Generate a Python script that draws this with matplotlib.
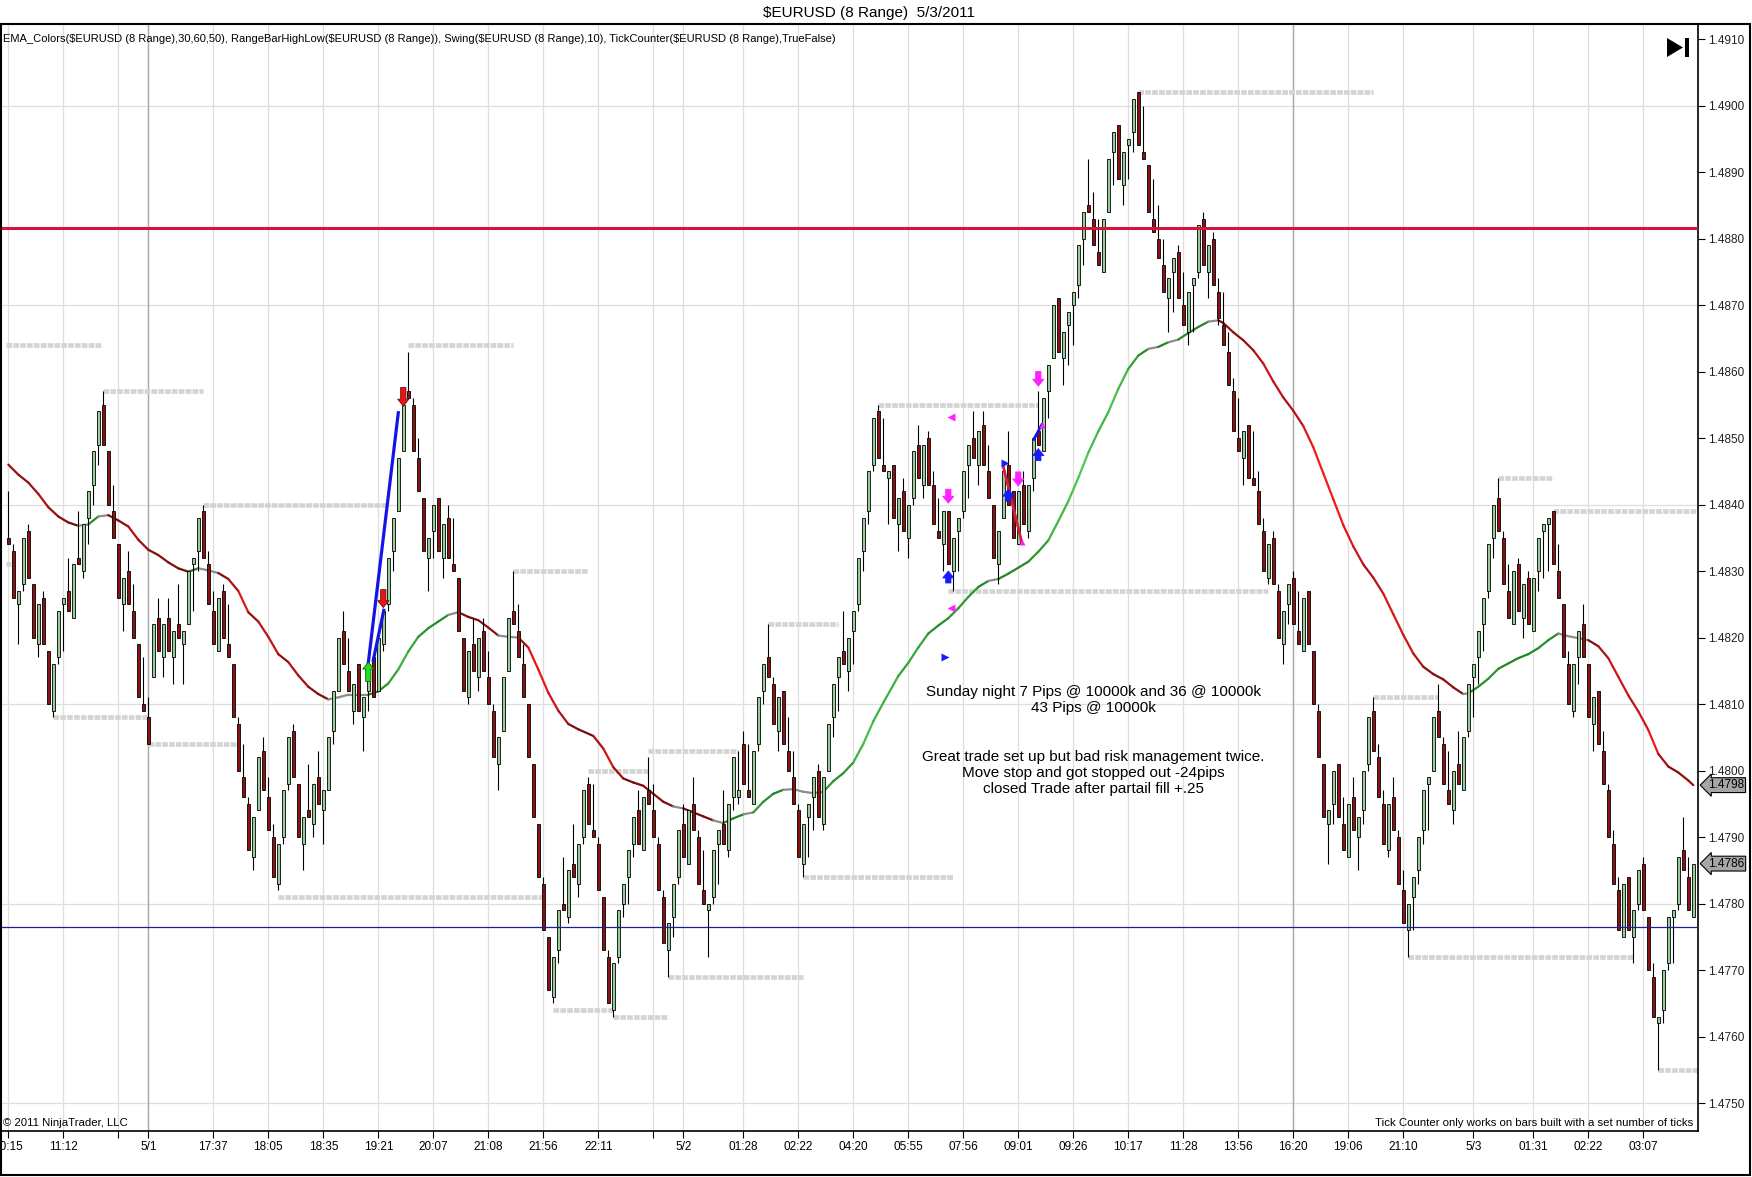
import numpy as np
import matplotlib
matplotlib.use("Agg")
import matplotlib.pyplot as plt
from matplotlib.collections import LineCollection
from matplotlib.patches import Rectangle, Polygon
from matplotlib.transforms import blended_transform_factory

plt.rcParams["font.family"] = ["Liberation Sans", "DejaVu Sans"]
NARROW = ["Liberation Sans Narrow", "Liberation Sans", "DejaVu Sans"]

W, H = 1752, 1177

# ---- range bars, prices in pips (4834 -> 1.4834) ----
opens = [
    4835, 4833, 4825, 4828, 4836, 4828, 4819, 4826, 4818, 4809,
    4817, 4825, 4827, 4823, 4832, 4830, 4838, 4843, 4849, 4855,
    4848, 4839, 4834, 4825, 4830, 4824, 4819, 4810, 4808, 4814,
    4823, 4817, 4823, 4817, 4822, 4819, 4822, 4831, 4833, 4839,
    4831, 4824, 4818, 4827, 4819, 4816, 4807, 4799, 4795, 4787,
    4794, 4803, 4796, 4790, 4783, 4790, 4798, 4806, 4798, 4789,
    4794, 4792, 4799, 4794, 4797, 4806, 4812, 4821, 4815, 4809,
    4816, 4808, 4812, 4817, 4812, 4819, 4825, 4833, 4839, 4848,
    4857, 4855, 4847, 4841, 4832, 4836, 4841, 4832, 4838, 4831,
    4829, 4820, 4811, 4819, 4814, 4821, 4814, 4809, 4801, 4806,
    4815, 4824, 4821, 4816, 4810, 4801, 4792, 4783, 4775, 4766,
    4773, 4780, 4778, 4786, 4783, 4790, 4798, 4791, 4789, 4781,
    4772, 4764, 4772, 4780, 4784, 4789, 4794, 4788, 4797, 4794,
    4789, 4781, 4773, 4778, 4784, 4792, 4786, 4795, 4790, 4782,
    4779, 4781, 4789, 4792, 4788, 4796, 4796, 4804, 4797, 4795,
    4804, 4812, 4817, 4813, 4806, 4812, 4803, 4799, 4794, 4786,
    4793, 4796, 4800, 4792, 4800, 4808, 4814, 4818, 4815, 4821,
    4825, 4833, 4839, 4846, 4854, 4846, 4844, 4846, 4837, 4842,
    4835, 4841, 4849, 4843, 4850, 4843, 4836, 4834, 4839, 4830,
    4836, 4839, 4846, 4850, 4846, 4852, 4845, 4840, 4831, 4838,
    4846, 4842, 4834, 4843, 4836, 4844, 4851, 4848, 4857, 4862,
    4871, 4862, 4867, 4870, 4873, 4880, 4885, 4883, 4878, 4875,
    4884, 4893, 4897, 4888, 4894, 4896, 4902, 4893, 4891, 4883,
    4880, 4876, 4871, 4875, 4878, 4870, 4866, 4873, 4875, 4883,
    4875, 4880, 4872, 4867, 4863, 4857, 4850, 4847, 4852, 4844,
    4842, 4836, 4829, 4835, 4827, 4819, 4825, 4829, 4821, 4818,
    4827, 4818, 4809, 4801, 4792, 4795, 4801, 4792, 4787, 4796,
    4790, 4794, 4801, 4809, 4802, 4795, 4788, 4796, 4790, 4782,
    4776, 4781, 4785, 4791, 4798, 4800, 4809, 4804, 4797, 4794,
    4801, 4797, 4806, 4814, 4817, 4822, 4827, 4835, 4841, 4835,
    4827, 4822, 4831, 4823, 4829, 4821, 4830, 4836, 4837, 4839,
    4830, 4825, 4816, 4809, 4817, 4822, 4816, 4807, 4812, 4803,
    4797, 4789, 4782, 4775, 4784, 4775, 4780, 4786, 4778, 4769,
    4762, 4764, 4771, 4778, 4780, 4788, 4784, 4778,
]
highs = [
    4842, 4834, 4827, 4835, 4837, 4828, 4825, 4827, 4818, 4816,
    4824, 4826, 4832, 4831, 4839, 4837, 4842, 4848, 4854, 4857,
    4848, 4843, 4834, 4829, 4833, 4828, 4819, 4817, 4811, 4822,
    4826, 4822, 4826, 4821, 4828, 4821, 4830, 4832, 4838, 4840,
    4833, 4827, 4826, 4828, 4825, 4816, 4808, 4804, 4796, 4793,
    4802, 4805, 4799, 4792, 4789, 4797, 4805, 4807, 4798, 4793,
    4801, 4798, 4803, 4797, 4805, 4812, 4820, 4824, 4820, 4813,
    4816, 4811, 4816, 4817, 4820, 4824, 4832, 4838, 4847, 4855,
    4863, 4856, 4850, 4841, 4835, 4840, 4841, 4837, 4840, 4838,
    4829, 4820, 4818, 4823, 4820, 4823, 4818, 4810, 4805, 4814,
    4823, 4830, 4825, 4819, 4810, 4801, 4792, 4784, 4775, 4772,
    4779, 4787, 4785, 4792, 4789, 4797, 4799, 4798, 4790, 4781,
    4773, 4771, 4779, 4783, 4788, 4793, 4797, 4796, 4802, 4798,
    4790, 4782, 4777, 4783, 4791, 4795, 4794, 4799, 4791, 4788,
    4780, 4788, 4791, 4797, 4795, 4802, 4803, 4806, 4804, 4803,
    4811, 4816, 4822, 4814, 4811, 4812, 4808, 4803, 4795, 4792,
    4795, 4799, 4801, 4799, 4807, 4813, 4817, 4824, 4820, 4824,
    4832, 4838, 4845, 4853, 4855, 4853, 4845, 4846, 4841, 4844,
    4840, 4848, 4852, 4849, 4851, 4845, 4841, 4839, 4839, 4835,
    4838, 4845, 4849, 4854, 4851, 4854, 4849, 4840, 4836, 4845,
    4851, 4842, 4842, 4845, 4843, 4850, 4857, 4856, 4861, 4870,
    4871, 4866, 4869, 4872, 4879, 4884, 4892, 4887, 4883, 4883,
    4892, 4896, 4897, 4893, 4895, 4901, 4902, 4900, 4891, 4889,
    4885, 4880, 4874, 4877, 4879, 4875, 4872, 4874, 4882, 4884,
    4879, 4881, 4874, 4872, 4866, 4859, 4856, 4851, 4852, 4851,
    4845, 4838, 4834, 4836, 4828, 4824, 4828, 4830, 4827, 4826,
    4827, 4818, 4810, 4801, 4794, 4800, 4801, 4796, 4795, 4799,
    4793, 4800, 4808, 4811, 4804, 4797, 4795, 4799, 4791, 4785,
    4780, 4784, 4790, 4797, 4799, 4808, 4813, 4805, 4803, 4800,
    4806, 4805, 4813, 4816, 4821, 4826, 4834, 4840, 4844, 4836,
    4831, 4830, 4832, 4828, 4830, 4829, 4835, 4837, 4838, 4839,
    4834, 4825, 4818, 4816, 4821, 4825, 4816, 4811, 4812, 4806,
    4798, 4791, 4784, 4783, 4784, 4779, 4785, 4787, 4778, 4771,
    4763, 4770, 4778, 4779, 4787, 4793, 4787, 4786,
]
lows = [
    4834, 4826, 4819, 4827, 4829, 4820, 4817, 4819, 4810, 4808,
    4816, 4818, 4824, 4823, 4831, 4829, 4834, 4840, 4846, 4849,
    4840, 4835, 4826, 4821, 4825, 4820, 4811, 4809, 4804, 4814,
    4818, 4814, 4818, 4813, 4820, 4813, 4822, 4824, 4830, 4832,
    4825, 4819, 4818, 4820, 4817, 4808, 4800, 4796, 4788, 4785,
    4794, 4797, 4791, 4784, 4782, 4789, 4797, 4799, 4790, 4785,
    4793, 4790, 4795, 4789, 4797, 4804, 4812, 4816, 4812, 4807,
    4809, 4803, 4809, 4811, 4812, 4818, 4824, 4830, 4839, 4848,
    4856, 4848, 4842, 4833, 4827, 4832, 4833, 4829, 4832, 4830,
    4821, 4812, 4810, 4815, 4812, 4815, 4810, 4802, 4797, 4806,
    4815, 4822, 4817, 4811, 4802, 4793, 4784, 4776, 4767, 4765,
    4771, 4779, 4777, 4784, 4781, 4789, 4792, 4790, 4782, 4773,
    4765, 4763, 4771, 4778, 4780, 4787, 4789, 4788, 4795, 4790,
    4782, 4774, 4769, 4775, 4783, 4787, 4786, 4791, 4783, 4780,
    4772, 4780, 4783, 4789, 4787, 4794, 4795, 4798, 4796, 4795,
    4803, 4810, 4814, 4807, 4803, 4804, 4800, 4795, 4787, 4784,
    4787, 4791, 4793, 4791, 4800, 4805, 4809, 4816, 4812, 4816,
    4824, 4830, 4837, 4845, 4847, 4845, 4837, 4838, 4833, 4836,
    4832, 4840, 4844, 4841, 4843, 4837, 4835, 4830, 4831, 4827,
    4830, 4838, 4841, 4847, 4843, 4846, 4841, 4832, 4828, 4838,
    4840, 4835, 4834, 4837, 4835, 4842, 4849, 4848, 4853, 4862,
    4863, 4858, 4861, 4864, 4871, 4876, 4884, 4879, 4876, 4875,
    4884, 4888, 4889, 4885, 4889, 4893, 4894, 4892, 4884, 4881,
    4877, 4872, 4866, 4869, 4871, 4867, 4864, 4866, 4874, 4876,
    4871, 4873, 4867, 4864, 4858, 4851, 4848, 4843, 4844, 4843,
    4837, 4830, 4828, 4828, 4820, 4816, 4822, 4822, 4819, 4818,
    4819, 4810, 4802, 4793, 4786, 4792, 4793, 4788, 4787, 4791,
    4785, 4792, 4800, 4803, 4796, 4789, 4787, 4791, 4783, 4777,
    4772, 4776, 4783, 4789, 4791, 4800, 4805, 4798, 4795, 4792,
    4798, 4797, 4805, 4808, 4813, 4818, 4826, 4832, 4836, 4828,
    4823, 4822, 4824, 4820, 4822, 4821, 4827, 4829, 4830, 4831,
    4826, 4817, 4810, 4808, 4813, 4817, 4808, 4803, 4804, 4798,
    4790, 4783, 4776, 4775, 4776, 4771, 4779, 4779, 4770, 4763,
    4755, 4762, 4770, 4771, 4779, 4785, 4779, 4778,
]
closes = [
    4834, 4826, 4827, 4835, 4829, 4820, 4825, 4819, 4810, 4816,
    4824, 4826, 4824, 4831, 4831, 4837, 4842, 4848, 4854, 4849,
    4840, 4835, 4826, 4829, 4825, 4820, 4811, 4809, 4804, 4822,
    4818, 4822, 4818, 4821, 4820, 4821, 4830, 4832, 4838, 4832,
    4825, 4819, 4826, 4820, 4817, 4808, 4800, 4796, 4788, 4793,
    4802, 4797, 4791, 4784, 4789, 4797, 4805, 4799, 4790, 4793,
    4793, 4798, 4795, 4797, 4805, 4812, 4820, 4816, 4812, 4813,
    4809, 4811, 4816, 4811, 4820, 4824, 4832, 4838, 4847, 4855,
    4856, 4848, 4842, 4833, 4835, 4840, 4833, 4837, 4832, 4830,
    4821, 4812, 4818, 4815, 4820, 4815, 4810, 4802, 4805, 4814,
    4823, 4822, 4817, 4811, 4802, 4793, 4784, 4776, 4767, 4772,
    4779, 4779, 4785, 4784, 4789, 4797, 4792, 4790, 4782, 4773,
    4765, 4771, 4779, 4783, 4788, 4793, 4789, 4796, 4795, 4790,
    4782, 4774, 4777, 4783, 4791, 4787, 4794, 4791, 4783, 4780,
    4780, 4788, 4791, 4789, 4795, 4802, 4797, 4798, 4796, 4803,
    4811, 4816, 4814, 4807, 4811, 4804, 4800, 4795, 4787, 4792,
    4795, 4799, 4793, 4799, 4807, 4813, 4817, 4816, 4820, 4824,
    4832, 4838, 4845, 4853, 4847, 4845, 4845, 4838, 4841, 4836,
    4840, 4848, 4844, 4849, 4843, 4837, 4835, 4839, 4831, 4835,
    4838, 4845, 4849, 4847, 4851, 4846, 4841, 4832, 4836, 4845,
    4840, 4835, 4842, 4837, 4843, 4850, 4849, 4856, 4861, 4870,
    4863, 4866, 4869, 4872, 4879, 4884, 4884, 4879, 4876, 4883,
    4892, 4896, 4889, 4893, 4895, 4901, 4894, 4892, 4884, 4881,
    4877, 4872, 4874, 4877, 4871, 4867, 4872, 4874, 4882, 4876,
    4879, 4873, 4868, 4864, 4858, 4851, 4848, 4851, 4844, 4843,
    4837, 4830, 4834, 4828, 4820, 4824, 4828, 4822, 4819, 4826,
    4819, 4810, 4802, 4793, 4794, 4800, 4793, 4788, 4795, 4791,
    4793, 4800, 4808, 4803, 4796, 4789, 4795, 4791, 4783, 4777,
    4780, 4784, 4790, 4797, 4799, 4808, 4805, 4798, 4795, 4800,
    4798, 4805, 4813, 4816, 4821, 4826, 4834, 4840, 4836, 4828,
    4823, 4830, 4824, 4828, 4822, 4829, 4835, 4837, 4838, 4831,
    4826, 4817, 4810, 4816, 4821, 4817, 4808, 4811, 4804, 4798,
    4790, 4783, 4776, 4783, 4776, 4779, 4785, 4779, 4770, 4763,
    4763, 4770, 4778, 4779, 4787, 4785, 4779, 4786,
]

# EMA line (bar index, pips)
ema_x = [0, 2, 4, 6, 8, 10, 12, 14, 16, 18, 20, 22, 24, 26, 28, 30, 32, 34, 36, 38,
         40, 42, 44, 46, 48, 50, 52, 54, 56, 58, 60, 62, 64, 66, 68, 70, 72, 74, 76, 78,
         80, 82, 84, 86, 88, 90, 92, 94, 96, 98, 100, 102, 104, 106, 108, 110, 112, 114,
         117, 119, 121, 123, 125, 127, 129, 131, 133, 135, 137, 139, 141, 143, 145, 147,
         149, 151, 153, 155, 157, 159, 161, 163, 165, 167, 169, 171, 173, 175, 178, 180,
         182, 184, 186, 188, 190, 192, 194, 196, 198, 200, 202, 204, 206, 208, 210, 212,
         214, 216, 218, 220, 222, 224, 226, 228, 230, 232, 234, 236, 238, 240, 242, 243,
         245, 247, 249, 251, 253, 255, 257, 259, 261, 263, 265, 267, 269, 271, 273, 275,
         277, 279, 281, 283, 285, 287, 289, 291, 292, 294, 296, 298, 300, 302, 304, 306,
         308, 310, 312, 314, 316, 318, 320, 322, 324, 326, 328, 330, 332, 334, 336, 337]
ema_vals = [4846.0, 4844.5, 4843.3, 4841.6, 4839.6, 4838.2, 4837.3, 4836.8, 4837.0, 4838.2,
            4838.4, 4837.6, 4836.7, 4834.7, 4833.2, 4832.4, 4831.3, 4830.4, 4829.9, 4830.4,
            4830.1, 4829.7, 4828.8, 4827.0, 4823.8, 4822.4, 4820.1, 4817.5, 4816.3, 4814.3,
            4812.6, 4811.5, 4810.7, 4811.0, 4811.4, 4811.4, 4811.4, 4811.9, 4813.1, 4815.2,
            4817.9, 4820.1, 4821.4, 4822.4, 4823.4, 4823.8, 4823.1, 4822.6, 4821.5, 4820.3,
            4820.1, 4820.0, 4818.5, 4815.2, 4811.7, 4809.0, 4807.0, 4806.2,
            4805.2, 4803.3, 4800.5, 4798.8, 4798.2, 4797.7, 4796.5, 4795.3, 4794.6, 4794.3,
            4793.7, 4793.1, 4792.5, 4792.1, 4792.8, 4793.4,
            4793.7, 4795.3, 4796.5, 4797.1, 4797.2, 4796.8, 4796.6, 4796.8, 4798.4, 4799.6,
            4801.2, 4804.0, 4807.4, 4810.2, 4814.2, 4816.2,
            4818.5, 4820.6, 4821.8, 4822.9, 4824.4, 4826.1, 4827.6, 4828.5, 4828.8, 4829.6,
            4830.5, 4831.4, 4832.9, 4834.6, 4837.5, 4840.5,
            4844.0, 4847.8, 4851.0, 4853.9, 4857.4, 4860.4, 4862.4, 4863.4, 4863.7, 4864.4,
            4864.8, 4865.8, 4866.7, 4867.5, 4867.7, 4867.3,
            4865.9, 4864.7, 4863.2, 4861.2, 4858.5, 4856.1, 4854.1, 4851.8, 4848.6, 4844.7,
            4840.8, 4836.9, 4833.7, 4831.0, 4829.0, 4826.6,
            4823.5, 4820.4, 4817.6, 4815.6, 4814.5, 4813.7, 4812.5, 4811.5, 4811.6, 4812.6,
            4813.8, 4815.3, 4816.1, 4816.9, 4817.5, 4818.4,
            4819.6, 4820.6, 4820.2, 4819.9, 4819.6, 4818.7, 4816.9, 4814.1, 4811.3, 4808.9,
            4806.1, 4802.5, 4800.6, 4799.7, 4798.5, 4797.8]

# swing / range high-low levels: start bar, end bar, level (pips)
swing_start = [-0.5, -0.5, 19, 9, 28, 39, 54, 80, 101, 116, 109, 121, 128, 132,
               152, 159, 174, 188, 226, 273, 280, 298, 309, 330]
swing_end = [0.5, 18.7, 39, 28, 46, 76, 107, 101, 116, 128, 121, 132, 146, 159,
             166, 189, 206, 252, 273, 286, 325, 309, 337.7, 337.7]
swing_level = [4831, 4864, 4857, 4808, 4804, 4840, 4781, 4864, 4830, 4800, 4764, 4763, 4803, 4769,
               4822, 4784, 4855, 4827, 4902, 4811, 4772, 4844, 4839, 4755]

red_level = 4881.6
blue_level = 4776.5

# drawn objects: (bar0, pips0, bar1, pips1)
blue_lines = [(72, 4816.2, 78, 4853.8), (73, 4816.6, 75.1, 4824.1)]
red_lines = [(199, 4845.7, 202.7, 4834.3)]
small_blue_lines = [(205.1, 4849.8, 206.7, 4852.0)]

# executions: bar, tip, tail (pips)
green_up = [(72, 4816.3, 4813.4)]
blue_up = [(188, 4830.0, 4828.2), (200, 4842.3, 4840.5), (206, 4848.4, 4846.6)]
red_down = [(75, 4824.5, 4827.2), (79, 4854.8, 4857.6)]
magenta_down = [(188, 4840.2, 4842.3), (202, 4842.8, 4844.9), (206, 4857.8, 4860.0)]
magenta_left = [(188.5, 4853.2), (188.5, 4824.4)]
blue_right = [(187.3, 4817.0), (199.3, 4846.3)]
magenta_dots = [(202.7, 4834.3), (206.7, 4852.0)]

tick_bars = [0, 11, 22, 28, 41, 52, 63, 74, 85, 96, 107, 118, 129, 135, 147, 158, 169,
             180, 191, 202, 213, 224, 235, 246, 257, 268, 279, 293, 305, 316, 327]
tick_labels = ["10:15", "11:12", "", "5/1", "17:37", "18:05", "18:35", "19:21", "20:07",
               "21:08", "21:56", "22:11", "", "5/2", "01:28", "02:22", "04:20", "05:55",
               "07:56", "09:01", "09:26", "10:17", "11:28", "13:56", "16:20", "19:06",
               "21:10", "5/3", "01:31", "02:22", "03:07"]
session_breaks = [28, 257]
y_ticks = [1.4750, 1.4760, 1.4770, 1.4780, 1.4790, 1.4800, 1.4810, 1.4820, 1.4830,
           1.4840, 1.4850, 1.4860, 1.4870, 1.4880, 1.4890, 1.4900, 1.4910]
y_grid = [1.4750, 1.4780, 1.4810, 1.4840, 1.4870, 1.4900]

title = "$EURUSD (8 Range)  5/3/2011"
ind_text = ("EMA_Colors($EURUSD (8 Range),30,60,50), RangeBarHighLow($EURUSD (8 Range)), "
            "Swing($EURUSD (8 Range),10), TickCounter($EURUSD (8 Range),TrueFalse)")
note = ("Sunday night 7 Pips @ 10000k and 36 @ 10000k\n43 Pips @ 10000k\n\n\n"
        "Great trade set up but bad risk management twice.\n"
        "Move stop and got stopped out -24pips\n"
        "closed Trade after partail fill +.25")
note_pos = (217, 4804.5)


def price(v):
    return 1 + np.asarray(v, dtype=float) / 10000.0


def ema_color(s):
    if abs(s) < 0.25:
        return (0.55, 0.55, 0.55)
    t = min(1.0, (abs(s) - 0.25) / 1.6)
    if s > 0:
        lo, hi = np.array([0.13, 0.50, 0.13]), np.array([0.30, 0.78, 0.30])
    else:
        lo, hi = np.array([0.45, 0.05, 0.05]), np.array([0.95, 0.10, 0.10])
    return tuple(lo + (hi - lo) * t)


fig = plt.figure(figsize=(W / 100, H / 100), dpi=100)
ax = fig.add_axes([1 / W, 46 / H, 1697 / W, 1107 / H])

x = np.arange(len(opens))
o, hi_, lo_, c = price(opens), price(highs), price(lows), price(closes)
up = c > o

# grid
for gx in tick_bars:
    ax.axvline(gx, color="#dedede", lw=0.9, zorder=0)
for gx in session_breaks:
    ax.axvline(gx, color="#a9a9a9", lw=1.0, zorder=0.1)
for gy in y_grid:
    ax.axhline(gy, color="#dedede", lw=0.9, zorder=0)

# swing levels
for s, e, lev in zip(swing_start, swing_end, swing_level):
    ax.plot([s, e], [price(lev)] * 2, color="#d4d4d4", lw=3.4,
            linestyle=(0, (1.2, 0.25)), zorder=1)

# EMA coloured by slope
pts = np.column_stack([ema_x, price(ema_vals)])
segs = [pts[i:i + 2] for i in range(len(pts) - 1)]
slopes = np.diff(ema_vals) / np.diff(ema_x)
ax.add_collection(LineCollection(segs, colors=[ema_color(s) for s in slopes],
                                 linewidths=1.6, zorder=2, capstyle="round"))

# candles
ax.vlines(x, lo_, hi_, color="black", lw=0.8, zorder=3)
body_col = np.where(up, "#98cc98", "#8b1212")
ax.bar(x, np.maximum(np.abs(c - o), 0.00004), bottom=np.minimum(o, c), width=0.62,
       color=body_col, edgecolor="black", linewidth=0.6, zorder=4)

# horizontal lines
ax.axhline(price(red_level), color="#d3143c", lw=2.2, zorder=5)
ax.axhline(price(blue_level), color="#1c1ca8", lw=0.9, zorder=5)

# drawn lines
for x0, y0, x1, y1 in blue_lines:
    ax.plot([x0, x1], price([y0, y1]), color="#1414e6", lw=2.3, zorder=6)
for x0, y0, x1, y1 in red_lines:
    ax.plot([x0, x1], price([y0, y1]), color="#d61e3c", lw=2.0, zorder=6)
for x0, y0, x1, y1 in small_blue_lines:
    ax.plot([x0, x1], price([y0, y1]), color="#1414e6", lw=2.0, zorder=6)


def arrow(bar, tip, tail, col, edge):
    ax.annotate("", xy=(bar, price(tip)), xytext=(bar, price(tail)),
                arrowprops=dict(arrowstyle="simple,head_length=0.5,head_width=0.8,tail_width=0.38",
                                fc=col, ec=edge, lw=0.6, shrinkA=0, shrinkB=0,
                                mutation_scale=10),
                zorder=7)


for b, t, tl in green_up:
    arrow(b, t, tl, "#22dd22", "#116611")
for b, t, tl in blue_up:
    arrow(b, t, tl, "#1a1aff", "#1a1aff")
for b, t, tl in red_down:
    arrow(b, t, tl, "#ee1111", "#661111")
for b, t, tl in magenta_down:
    arrow(b, t, tl, "#ff22ff", "#ff22ff")
for b, v in magenta_left:
    ax.plot(b, price(v), marker="<", color="#ff22ff", ms=6, mec="none", zorder=7)
for b, v in blue_right:
    ax.plot(b, price(v), marker=">", color="#1a1aff", ms=6, mec="none", zorder=7)
for b, v in magenta_dots:
    ax.plot(b, price(v), marker="^", color="#ff22ff", ms=5, mec="none", zorder=7)

# axes
ax.set_xlim(-1.46, 337.94)
ax.set_ylim(1.474579, 1.491226)
ax.set_xticks(tick_bars)
ax.set_xticklabels(tick_labels, fontsize=8.5, family=NARROW)
ax.yaxis.tick_right()
ax.set_yticks(y_ticks)
ax.set_yticklabels([f"{v:.4f}" for v in y_ticks], fontsize=8.5, color="#222222")
ax.tick_params(axis="x", direction="out", length=5, width=0.8, pad=2)
ax.tick_params(axis="y", direction="out", length=5, width=0.8, pad=2)
for sp in ax.spines.values():
    sp.set_linewidth(1.2)
    sp.set_color("black")

# texts
ax.text(2 / 1697, 1 - 15 / 1107, ind_text, transform=ax.transAxes, fontsize=8.0,
        family=NARROW, ha="left", va="center", parse_math=False, zorder=8)
ax.text(2 / 1697, 3 / 1107, "\u00a9 2011 NinjaTrader, LLC", transform=ax.transAxes,
        fontsize=8.2, family=NARROW, ha="left", va="bottom", zorder=8)
ax.text(1 - 5 / 1697, 3 / 1107,
        "Tick Counter only works on bars built with a set number of ticks",
        transform=ax.transAxes, fontsize=8.2, family=NARROW, ha="right", va="bottom", zorder=8)
ax.text(note_pos[0], price(note_pos[1]), note, ha="center", va="center", fontsize=11,
        linespacing=1.2, multialignment="center", zorder=8)
fig.text(869 / W, 1 - 13 / H, title, ha="center", va="center", fontsize=11, parse_math=False)

# last-value markers on the price axis
trans = blended_transform_factory(ax.transAxes, ax.transData)
for v in [ema_vals[-1], closes[-1]]:
    ax.text(1 + 10 / 1697, price(v), f"{price(v):.4f}", transform=trans, ha="left",
            va="center", fontsize=8.5, clip_on=False, zorder=9,
            bbox=dict(boxstyle="larrow,pad=0.12", fc="#a6a6a6", ec="black", lw=0.8))

# "go to end" icon and outer frame
fig.add_artist(Polygon([[1667 / W, 1 - 38 / H], [1667 / W, 1 - 57 / H], [1683 / W, 1 - 47.5 / H]],
                       closed=True, transform=fig.transFigure, fc="black", ec="none"))
fig.add_artist(Rectangle((1685 / W, 1 - 57 / H), 4 / W, 19 / H, transform=fig.transFigure,
                         fc="black", ec="none"))
fig.add_artist(Rectangle((0.5 / W, 2 / H), 1749 / W, 1151 / H, transform=fig.transFigure,
                         fill=False, ec="black", lw=1.5))

fig.savefig("out.png", dpi=100)
